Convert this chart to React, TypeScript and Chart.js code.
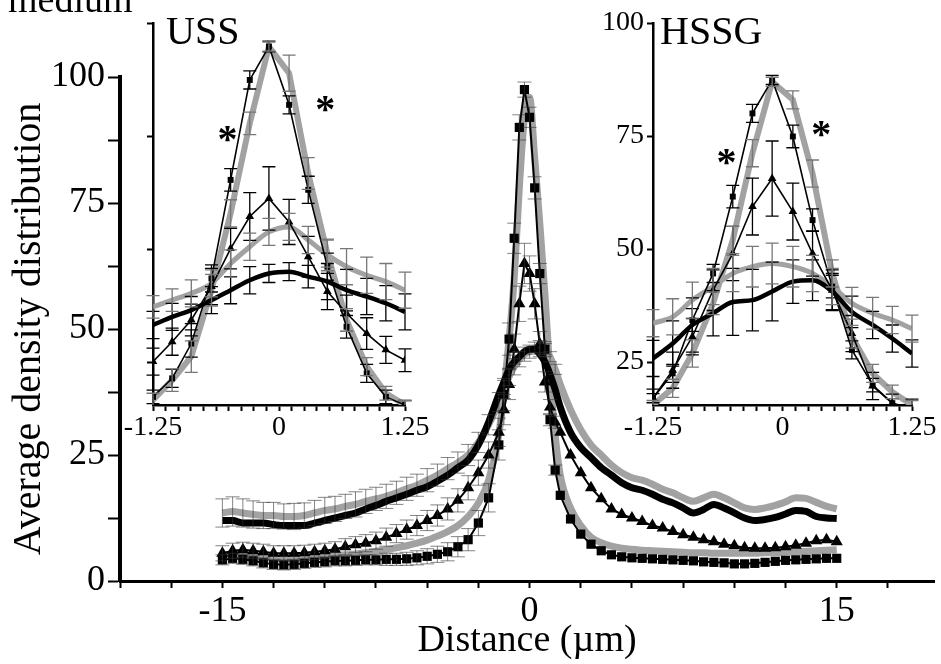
import React, { useEffect, useRef } from 'react';
import { Chart, registerables } from 'chart.js';

Chart.register(...registerables);

const SERIF = '"Liberation Serif", "Times New Roman", Times, serif';
const GRAY = '#a2a2a2';

// ---------------- main panel data ----------------
const MAIN_X = [
  -15, -14.5, -14, -13.5, -13, -12.5, -12, -11.5, -11, -10.5, -10, -9.5, -9, -8.5, -8, -7.5, -7, -6.5, -6, -5.5, -5, -4.5, -4, -3.5, -3, -2.5, -2, -1.5,
  -1.25, -1, -0.75, -0.5, -0.25, 0, 0.25, 0.5, 0.75, 1, 1.25,
  1.5, 2, 2.5, 3, 3.5, 4, 4.5, 5, 5.5, 6, 6.5, 7, 7.5, 8, 8.5, 9, 9.5, 10, 10.5, 11, 11.5, 12, 12.5, 13, 13.5, 14, 14.5, 15,
];
const MAIN_SQUARES = [
  4.2, 4.5, 4.3, 4.0, 3.6, 3.3, 3.2, 3.3, 3.5, 3.7, 3.8, 4.0, 4.0, 4.1, 4.2, 4.2, 4.3, 4.3, 4.4, 4.6, 4.9, 5.3, 5.8, 6.8, 8.2, 11.5, 16.5, 27,
  37, 48, 68, 90, 97.5, 92, 78, 61, 46, 32, 22,
  17, 12.3, 9.3, 7.3, 6.0, 5.2, 4.8, 4.6, 4.5, 4.4, 4.3, 4.2, 4.1, 4.0, 3.8, 3.7, 3.6, 3.4, 3.4, 3.5, 3.7, 3.9, 4.1, 4.2, 4.3, 4.4, 4.5, 4.5,
];
const MAIN_GRAY_NARROW = [
  5.0, 5.3, 5.2, 5.0, 4.7, 4.5, 4.4, 4.5, 4.6, 4.8, 5.0, 5.1, 5.2, 5.4, 5.6, 5.9, 6.2, 6.6, 7.0, 7.5, 8.1, 8.9, 9.8, 11.0, 12.8, 15.5, 20, 29,
  38, 48, 60, 78, 92, 96, 84, 71, 57, 41, 29,
  21, 14.5, 11, 8.7, 7.6, 6.9, 6.5, 6.3, 6.1, 6.0, 5.9, 5.8, 5.7, 5.6, 5.6, 5.5, 5.5, 5.5, 5.5, 5.5, 5.6, 5.6, 5.7, 5.8, 5.9, 6.0, 6.1, 6.2,
];
const MAIN_TRIANGLES = [
  5.5, 6.0, 6.2, 6.0, 5.8, 5.5, 5.5, 5.5, 5.6, 5.8, 6.0, 6.3, 6.8, 7.2, 7.5, 8.0, 8.7, 9.4, 10.2, 11.0, 12.0, 13.0, 14.3, 16.0, 18.5, 21.5, 25.0, 29.5,
  34, 39, 46, 55, 63, 61, 55, 47, 39.5, 34.5, 31.5,
  29.5, 25, 21.5, 18.5, 16.3, 14.3, 13.2, 12.5, 11.8, 11.0, 10.5, 9.8, 9.2, 8.7, 8.2, 7.8, 7.3, 7.0, 6.6, 6.5, 6.5, 6.6, 6.8, 7.1, 7.5, 8.0, 8.2, 7.8,
];
const MAIN_BLACK_BROAD = [
  12, 12, 11.5, 11.5, 11.5, 11.2, 11, 11, 11, 11.5, 12, 12.5, 13, 13.5, 14.3, 15, 15.8, 16.5, 17.2, 18, 18.7, 19.8, 21, 22.5, 24, 27, 31.5, 37,
  39.5, 42, 43.5, 44.5, 45.5, 46, 46, 45, 43.5, 41, 38,
  34.5, 29.5, 26.5, 24.5, 22.5, 21, 19.5, 18.5, 18, 17.2, 16.2, 15.5, 14.5, 13.5, 14.2, 15.2, 14.5, 13.5, 12.5, 12, 12.2, 12.6, 13.3, 14, 13.8, 12.8, 12.5, 12.4,
];
const MAIN_GRAY_BROAD = [
  13.5, 13.8, 13.5, 13.2, 13, 13, 12.8, 12.8, 13, 13.5, 14, 14.3, 14.8, 15.2, 15.8, 16.3, 16.8, 17.5, 18.3, 19, 20, 21, 22.3, 23.5, 25, 27.5, 31, 35.5,
  38, 40.5, 42.5, 44, 45, 45.5, 46.2, 46.5, 46, 44.5, 42,
  39, 34, 30, 27, 25, 23, 21.5, 20.5, 20, 19.2, 18.2, 17.5, 16.5, 15.8, 16.5, 17.2, 16.5, 15.5, 14.5, 14.2, 14.5, 15, 15.7, 16.5, 16.4, 15.6, 14.8, 14.3,
];
const MAIN_GRAY_BROAD_ERR = [
  2.8, 2.9, 2.8, 2.7, 2.6, 2.6, 2.5, 2.6, 2.5, 2.5, 2.6, 2.5, 2.4, 2.5, 2.4, 2.3, 2.4, 2.3, 2.3, 2.2, 2.3, 2.2, 2.2, 2.1, 2.1, 2.0, 2.0, 1.9,
  1.8, 1.7, 1.6, 1.5, 1.4, 1.3, 1.2, 1.2, 1.1, 1.0, 1.0,
  0, 0, 0, 0, 0, 0, 0, 0, 0, 0, 0, 0, 0, 0, 0, 0, 0, 0, 0, 0, 0, 0, 0, 0, 0, 0, 0, 0,
];
const MAIN_SQUARES_ERR = [
  1.0, 1.0, 1.0, 1.0, 1.0, 1.0, 1.0, 1.0, 1.0, 1.0, 1.0, 1.0, 1.0, 1.0, 1.0, 1.0, 1.2, 1.2, 1.3, 1.4, 1.5, 1.6, 1.8, 2.0, 2.2, 2.5, 2.8, 3.0,
  3.2, 3.2, 3.0, 2.5, 1.5, 2.0, 2.2, 2.0, 1.5, 1.2, 1.0,
  0, 0, 0, 0, 0, 0, 0, 0, 0, 0, 0, 0, 0, 0, 0, 0, 0, 0, 0, 0, 0, 0, 0, 0, 0, 0, 0, 0,
];
const MAIN_TRIANGLES_ERR = [
  1.5, 1.5, 1.5, 1.5, 1.5, 1.5, 1.5, 1.5, 1.5, 1.5, 1.5, 1.5, 1.6, 1.6, 1.7, 1.7, 1.8, 1.8, 1.9, 2.0, 2.0, 2.1, 2.2, 2.3, 2.4, 2.5, 2.6, 2.8,
  3, 3, 3, 3.5, 4, 3.5, 3, 2.5, 2, 1.5, 1.2,
  0, 0, 0, 0, 0, 0, 0, 0, 0, 0, 0, 0, 0, 0, 0, 0, 0, 0, 0, 0, 0, 0, 0, 0, 0, 0, 0, 0,
];
const MAIN_X_LABELS = [-15, 0, 15];
const MAIN_Y_LABELS = [0, 25, 50, 75, 100];

// ---------------- inset data ----------------
const INSET_X = [-1.25, -1.06, -0.87, -0.67, -0.48, -0.29, -0.1, 0.1, 0.29, 0.48, 0.67, 0.87, 1.06, 1.25];
const INSET_X_LABELS = [-1.25, 0, 1.25];
const INSET_Y_LABELS = [25, 50, 75, 100];

const USS_SQUARES = [17.3, 21.4, 29.1, 43.5, 65.3, 87.4, 94.8, 81.9, 63.1, 46.1, 32.8, 22.5, 17.3, 15.5];
const USS_GRAY_NARROW = [16.6, 21.0, 26.2, 40.9, 57.9, 77.8, 94.8, 88.9, 66.7, 49.0, 34.3, 24.0, 18.1, 15.5];
const USS_TRIANGLES = [25.1, 29.5, 34.3, 41.7, 50.1, 57.2, 61.2, 56.0, 48.3, 40.6, 35.8, 31.3, 27.7, 25.4];
const USS_GRAY_BROAD = [37.2, 38.7, 40.2, 42.4, 46.8, 50.5, 53.8, 54.9, 52.0, 48.7, 46.1, 44.2, 42.8, 40.9];
const USS_BLACK_BROAD = [33.2, 35.0, 36.5, 38.7, 40.9, 43.1, 44.6, 45.0, 43.9, 42.8, 40.9, 39.5, 38.0, 36.1];
const USS_SQUARES_ERR = [1.5, 2, 3, 3, 2.5, 2, 1.2, 2, 3, 3, 2.5, 2, 1.5, 1];
const USS_GRAY_NARROW_ERR = [1.5, 2.5, 3.5, 3.5, 3, 2.5, 1, 4, 3.5, 3, 2.5, 2, 1.5, 1];
const USS_TRIANGLES_ERR = [3, 3, 3.5, 4, 4.5, 5.3, 7, 5, 4.5, 4, 4, 3.5, 3, 2.5];
const USS_GRAY_BROAD_ERR = [2.5, 2.5, 3, 3, 3, 3, 3, 3, 3, 3.5, 4, 4, 4, 4];
const USS_BLACK_BROAD_ERR = [3, 3, 3, 3, 3, 3, 2, 2, 2.5, 4, 4.6, 4, 3.9, 4];

const HSSG_SQUARES = [17.0, 22.5, 34.3, 44.6, 61.6, 80.0, 87.4, 74.9, 56.4, 41.7, 27.7, 19.9, 15.9, 14.0];
const HSSG_GRAY_NARROW = [15.5, 19.2, 26.9, 38.0, 52.0, 71.2, 87.0, 83.0, 66.7, 44.6, 30.6, 22.5, 18.4, 15.5];
const HSSG_TRIANGLES = [17.0, 23.2, 30.6, 40.9, 49.0, 59.4, 65.6, 58.3, 49.0, 40.9, 31.3, 19.7, 15.9, 14.8];
const HSSG_GRAY_BROAD = [33.6, 35.0, 38.7, 41.7, 44.6, 46.1, 46.8, 46.1, 44.6, 41.7, 38.0, 35.8, 34.3, 32.4];
const HSSG_BLACK_BROAD = [25.8, 29.1, 33.2, 35.8, 38.3, 38.7, 40.6, 42.8, 43.1, 40.6, 36.1, 33.2, 30.2, 26.9];
const HSSG_SQUARES_ERR = [1, 2, 2.5, 2, 2.5, 2, 1, 2.5, 2.5, 2.5, 2, 1.5, 1, 1];
const HSSG_GRAY_NARROW_ERR = [1, 2, 3, 2.5, 3, 3, 1, 2, 3, 3, 2.5, 2, 1.5, 1];
const HSSG_TRIANGLES_ERR = [2, 4, 4, 4.5, 6, 6.3, 8.3, 6.3, 5, 4.5, 4, 3, 2, 2];
const HSSG_GRAY_BROAD_ERR = [3, 4, 4, 4, 4, 4.5, 4.5, 4.5, 4, 4, 3.5, 3.5, 3, 3];
const HSSG_BLACK_BROAD_ERR = [4, 5, 6, 5, 7.4, 6.8, 6.5, 4.8, 4.5, 4, 3.5, 3, 3, 3];

// annotation anchors (data coordinates of the significance stars)
const USS_STARS = [{ x: -0.51, y: 75.9 }, { x: 0.46, y: 82.5 }];
const HSSG_STARS = [{ x: -0.54, y: 70.8 }, { x: 0.375, y: 77 }];

const pts = (xs: number[], ys: number[]) => xs.map((x, i) => ({ x, y: ys[i] }));
const near = (list: number[], v: number) => list.some((t) => Math.abs(t - v) < 1e-6);

const errorBarPlugin = {
  id: 'errorBars',
  afterDatasetsDraw(chart: any) {
    const { ctx, chartArea } = chart;
    const yScale = chart.scales.y;
    chart.data.datasets.forEach((ds: any, i: number) => {
      if (!ds.errorBars) return;
      const meta = chart.getDatasetMeta(i);
      const st = ds.errorStyle || {};
      ctx.save();
      ctx.beginPath();
      ctx.rect(chartArea.left - 10, chartArea.top - 20, chartArea.right - chartArea.left + 20, chartArea.bottom - chartArea.top + 20);
      ctx.clip();
      ctx.beginPath();
      ctx.strokeStyle = st.color || '#000';
      ctx.lineWidth = st.width || 1.2;
      const half = (st.cap || 12) / 2;
      meta.data.forEach((el: any, j: number) => {
        const e = ds.errorBars[j];
        if (!e) return;
        const v = ds.data[j].y;
        const yTop = yScale.getPixelForValue(v + e);
        const yBot = Math.min(yScale.getPixelForValue(v - e), chartArea.bottom);
        const x = el.x;
        ctx.moveTo(x, yTop);
        ctx.lineTo(x, yBot);
        ctx.moveTo(x - half, yTop);
        ctx.lineTo(x + half, yTop);
        if (yBot < chartArea.bottom) {
          ctx.moveTo(x - half, yBot);
          ctx.lineTo(x + half, yBot);
        }
      });
      ctx.stroke();
      ctx.restore();
    });
  },
};

function mainConfig(): any {
  const fuzz = { color: 'rgba(50,50,50,0.6)', width: 1, cap: 14 };
  return {
    type: 'line',
    data: {
      datasets: [
        {
          label: 'squares', data: pts(MAIN_X, MAIN_SQUARES), borderColor: '#000', borderWidth: 2,
          pointStyle: 'rect', pointRadius: 6.5, pointBackgroundColor: '#000', pointBorderWidth: 0, order: 1,
          errorBars: MAIN_SQUARES_ERR, errorStyle: fuzz,
        },
        {
          label: 'triangles', data: pts(MAIN_X, MAIN_TRIANGLES), borderColor: '#000', borderWidth: 2,
          pointStyle: 'triangle', pointRadius: 7, pointBackgroundColor: '#000', pointBorderWidth: 0, order: 2,
          errorBars: MAIN_TRIANGLES_ERR, errorStyle: fuzz,
        },
        {
          label: 'black broad', data: pts(MAIN_X, MAIN_BLACK_BROAD), borderColor: '#000', borderWidth: 7,
          pointRadius: 0, cubicInterpolationMode: 'monotone', order: 3,
        },
        {
          label: 'gray narrow', data: pts(MAIN_X, MAIN_GRAY_NARROW), borderColor: GRAY, borderWidth: 7,
          pointRadius: 0, cubicInterpolationMode: 'monotone', order: 4,
        },
        {
          label: 'gray broad', data: pts(MAIN_X, MAIN_GRAY_BROAD), borderColor: GRAY, borderWidth: 7,
          pointRadius: 0, cubicInterpolationMode: 'monotone', order: 5,
          errorBars: MAIN_GRAY_BROAD_ERR, errorStyle: fuzz,
        },
      ],
    },
    options: {
      responsive: false,
      animation: false,
      events: [],
      layout: { padding: { top: 77, left: 0, right: 0, bottom: 0 } },
      plugins: { legend: { display: false }, tooltip: { enabled: false } },
      scales: {
        x: {
          type: 'linear', min: -20, max: 19.75,
          afterFit: (s: any) => { s.height = 83; },
          border: { color: '#000', width: 3 },
          grid: { drawOnChartArea: false, drawTicks: true, tickLength: 7, tickWidth: 2, tickColor: '#000' },
          ticks: {
            stepSize: 2.5, includeBounds: false, autoSkip: false, maxRotation: 0, color: '#000', padding: 2,
            font: { family: SERIF, size: 36 },
            callback: (v: number) => (near(MAIN_X_LABELS, v) ? String(v) : ''),
          },
          title: { display: true, text: 'Distance (µm)', color: '#000', font: { family: SERIF, size: 38 }, padding: { top: 0, bottom: 0 } },
        },
        y: {
          min: 0, max: 100,
          afterFit: (s: any) => { s.width = 120; },
          border: { color: '#000', width: 4 },
          grid: { drawOnChartArea: false, drawTicks: true, tickLength: 12, tickWidth: 2, tickColor: '#000' },
          ticks: {
            stepSize: 12.5, autoSkip: false, color: '#000', padding: 3,
            font: { family: SERIF, size: 36 },
            callback: (v: number) => (near(MAIN_Y_LABELS, v) ? String(v) : ''),
          },
          title: { display: true, text: 'Average density distribution', color: '#000', font: { family: SERIF, size: 40 }, padding: { top: 5, bottom: 0 } },
        },
      },
    },
    plugins: [
      errorBarPlugin,
      {
        id: 'topText',
        afterDraw(chart: any) {
          const ctx = chart.ctx;
          ctx.save();
          ctx.fillStyle = '#000';
          ctx.font = `38px ${SERIF}`;
          ctx.textBaseline = 'alphabetic';
          ctx.fillText('medium', 8, 12);
          ctx.restore();
        },
      },
    ],
  };
}

type InsetSpec = {
  title: string;
  squares: number[]; grayNarrow: number[]; triangles: number[]; grayBroad: number[]; blackBroad: number[];
  squaresErr: number[]; grayNarrowErr: number[]; trianglesErr: number[]; grayBroadErr: number[]; blackBroadErr: number[];
  stars: { x: number; y: number }[];
  showYLabels: boolean;
  yWidth: number;
  padRight: number;
  titleDx: number;
};

function insetConfig(sp: InsetSpec): any {
  const blackErr = { color: '#000', width: 1.3, cap: 13 };
  const grayErr = { color: '#777', width: 1.3, cap: 13 };
  return {
    type: 'line',
    data: {
      datasets: [
        {
          label: 'squares', data: pts(INSET_X, sp.squares), borderColor: '#000', borderWidth: 1.6,
          pointStyle: 'rect', pointRadius: 4.2, pointBackgroundColor: '#000', pointBorderWidth: 0, order: 1,
          errorBars: sp.squaresErr, errorStyle: blackErr,
        },
        {
          label: 'triangles', data: pts(INSET_X, sp.triangles), borderColor: '#000', borderWidth: 1.6,
          pointStyle: 'triangle', pointRadius: 5, pointBackgroundColor: '#000', pointBorderWidth: 0, order: 2,
          errorBars: sp.trianglesErr, errorStyle: blackErr,
        },
        {
          label: 'black broad', data: pts(INSET_X, sp.blackBroad), borderColor: '#000', borderWidth: 4.5,
          pointRadius: 0, cubicInterpolationMode: 'monotone', order: 3,
          errorBars: sp.blackBroadErr, errorStyle: blackErr,
        },
        {
          label: 'gray narrow', data: pts(INSET_X, sp.grayNarrow), borderColor: GRAY, borderWidth: 6,
          pointRadius: 0, order: 4,
          errorBars: sp.grayNarrowErr, errorStyle: grayErr,
        },
        {
          label: 'gray broad', data: pts(INSET_X, sp.grayBroad), borderColor: GRAY, borderWidth: 5,
          pointRadius: 0, cubicInterpolationMode: 'monotone', order: 5,
          errorBars: sp.grayBroadErr, errorStyle: grayErr,
        },
      ],
    },
    options: {
      responsive: false,
      animation: false,
      events: [],
      layout: { padding: { top: 23, left: 0, right: sp.padRight, bottom: 0 } },
      plugins: { legend: { display: false }, tooltip: { enabled: false } },
      scales: {
        x: {
          type: 'linear', min: -1.25, max: 1.25,
          afterFit: (s: any) => { s.height = 45; },
          border: { color: '#000', width: 2.5 },
          grid: { drawOnChartArea: false, drawTicks: true, tickLength: 6, tickWidth: 2, tickColor: '#000' },
          ticks: {
            stepSize: 0.125, autoSkip: false, maxRotation: 0, color: '#000', padding: 0,
            font: { family: SERIF, size: 28 },
            callback: (v: number) => (near(INSET_X_LABELS, v) ? String(v) : ''),
          },
        },
        y: {
          min: 15.5, max: 100,
          afterFit: (s: any) => { s.width = sp.yWidth; },
          border: { color: '#000', width: 2.5 },
          grid: { drawOnChartArea: false, drawTicks: true, tickLength: 6, tickWidth: 2, tickColor: '#000' },
          ticks: {
            stepSize: 25, includeBounds: false, autoSkip: false, color: '#000', padding: 3,
            font: { family: SERIF, size: 28 },
            callback: (v: number) => (sp.showYLabels && near(INSET_Y_LABELS, v) ? String(v) : ''),
          },
        },
      },
    },
    plugins: [
      errorBarPlugin,
      {
        id: 'insetText',
        afterDraw(chart: any) {
          const { ctx, chartArea, scales } = chart;
          ctx.save();
          ctx.fillStyle = '#000';
          ctx.font = `40px ${SERIF}`;
          ctx.textBaseline = 'alphabetic';
          ctx.textAlign = 'left';
          ctx.fillText(sp.title, chartArea.left + sp.titleDx, chartArea.top + 21);
          ctx.font = `bold 40px ${SERIF}`;
          ctx.textAlign = 'center';
          sp.stars.forEach((s) => {
            const px = scales.x.getPixelForValue(s.x);
            const py = scales.y.getPixelForValue(s.y);
            ctx.fillText('*', px, py + 20);
          });
          ctx.restore();
        },
      },
    ],
  };
}

function ChartCanvas(props: { make: () => any; left: number; top: number; width: number; height: number }) {
  const ref = useRef<HTMLCanvasElement>(null);
  useEffect(() => {
    const chart = new Chart(ref.current as HTMLCanvasElement, props.make());
    return () => chart.destroy();
  }, []);
  return (
    <canvas
      ref={ref}
      width={props.width}
      height={props.height}
      style={{ position: 'absolute', left: props.left, top: props.top, width: props.width, height: props.height }}
    />
  );
}

const USS_SPEC: InsetSpec = {
  title: 'USS',
  squares: USS_SQUARES, grayNarrow: USS_GRAY_NARROW, triangles: USS_TRIANGLES, grayBroad: USS_GRAY_BROAD, blackBroad: USS_BLACK_BROAD,
  squaresErr: USS_SQUARES_ERR, grayNarrowErr: USS_GRAY_NARROW_ERR, trianglesErr: USS_TRIANGLES_ERR, grayBroadErr: USS_GRAY_BROAD_ERR, blackBroadErr: USS_BLACK_BROAD_ERR,
  stars: USS_STARS, showYLabels: false, yWidth: 53, padRight: 30, titleDx: 13,
};
const HSSG_SPEC: InsetSpec = {
  title: 'HSSG',
  squares: HSSG_SQUARES, grayNarrow: HSSG_GRAY_NARROW, triangles: HSSG_TRIANGLES, grayBroad: HSSG_GRAY_BROAD, blackBroad: HSSG_BLACK_BROAD,
  squaresErr: HSSG_SQUARES_ERR, grayNarrowErr: HSSG_GRAY_NARROW_ERR, trianglesErr: HSSG_TRIANGLES_ERR, grayBroadErr: HSSG_GRAY_BROAD_ERR, blackBroadErr: HSSG_BLACK_BROAD_ERR,
  stars: HSSG_STARS, showYLabels: true, yWidth: 93, padRight: 29, titleDx: 7,
};

export default function App() {
  return (
    <div style={{ position: 'fixed', left: 0, top: 0, width: 941, height: 664, background: '#fff', overflow: 'hidden' }}>
      <ChartCanvas make={mainConfig} left={0} top={0} width={941} height={664} />
      <ChartCanvas make={() => insetConfig(USS_SPEC)} left={100} top={0} width={335} height={450} />
      <ChartCanvas make={() => insetConfig(HSSG_SPEC)} left={560} top={0} width={381} height={450} />
    </div>
  );
}
